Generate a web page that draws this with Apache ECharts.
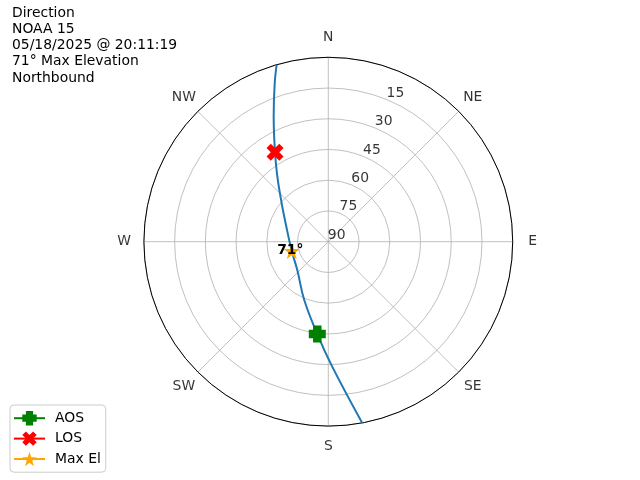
<!DOCTYPE html>
<html><head><meta charset="utf-8">
<script src="https://cdn.jsdelivr.net/npm/echarts@6/dist/echarts.min.js"></script>
<style>html,body{margin:0;padding:0;background:#fff}#c{width:640px;height:480px}</style>
</head><body><div id="c"></div>
<script>
// ---- data ----
const directions = ['N','NE','E','SE','S','SW','W','NW'];
const directionAz = [0,45,90,135,180,225,270,315];
const radialTicks = [90,75,60,45,30,15];
const titleLines = ['Direction','NOAA 15','05/18/2025 @ 20:11:19','71° Max Elevation','Northbound'];
const trackAz = [169.4,178.2,186.8,202.4,227.6,255.7,291.5,309.5,321.9,329.2,336.4,341.3,343.75];
const trackEl = [0,29.0,44.6,59.2,69.5,71.6,67.8,60.5,49.7,39.2,23.4,8.4,0];
const aosAz = 186.8, aosEl = 44.6;
const losAz = 329.2, losEl = 39.2;
const maxAz = 255.7, maxEl = 71.6;
const maxElLabel = '71°';
const legendNames = ['AOS','LOS','Max El'];

// ---- styles ----
const FONT = '"DejaVu Sans", sans-serif';
const FS = 13.9;
const COMPASS_LABEL_EL = -9.71;   // label ring just outside the horizon
const RLABEL_AZ = 22.5;           // direction of the radial tick labels
const plusPath = 'path://M-1.5,-3H1.5V-1.5H3V1.5H1.5V3H-1.5V1.5H-3V-1.5H-1.5Z';
const xPath = 'path://M-1,-2L0,-1L1,-2L2,-1L1,0L2,1L1,2L0,1L-1,2L-2,1L-1,0L-2,-1Z';
function starPath(){
  let s = 'path://';
  for (let k = 0; k < 10; k++) {
    const r = k % 2 ? 0.382 : 1;
    const a = (-90 + 36 * k) * Math.PI / 180;
    s += (k ? 'L' : 'M') + (r * Math.cos(a)).toFixed(3) + ',' + (r * Math.sin(a)).toFixed(3);
  }
  return s + 'Z';
}

const chart = echarts.init(document.getElementById('c'), null, {renderer: 'canvas'});
chart.setOption({
  animation: false,
  backgroundColor: '#ffffff',
  textStyle: {fontFamily: FONT},
  polar: {center: [328.3, 241.7], radius: 184.4},
  angleAxis: {
    type: 'value', min: 0, max: 360, interval: 45,
    startAngle: 90, clockwise: true,
    axisLine: {show: true, lineStyle: {color: '#000', width: 1}},
    axisTick: {show: false},
    axisLabel: {show: false},
    splitLine: {show: true, lineStyle: {color: '#b0b0b0', width: 0.8}}
  },
  radiusAxis: {
    type: 'value', min: 0, max: 90, interval: 15, inverse: true,
    axisLine: {show: false}, axisTick: {show: false}, axisLabel: {show: false},
    splitLine: {show: true, lineStyle: {color: '#b0b0b0', width: 0.8}}
  },
  legend: {
    left: 10, top: 405, orient: 'vertical',
    padding: [6, 5, 6, 3],
    itemWidth: 31, itemHeight: 18, itemGap: 6,
    backgroundColor: 'rgba(255,255,255,0.8)',
    borderColor: '#cccccc', borderWidth: 1, borderRadius: 4,
    textStyle: {color: '#000', fontSize: FS, fontFamily: FONT, padding: [0, 0, 0, 5]},
    data: legendNames
  },
  graphic: [{
    type: 'text', left: 12, top: 5,
    style: {text: titleLines.join('\n'), font: FS + 'px ' + FONT, lineHeight: 16.25, fill: '#000'}
  }],
  series: [
    {
      type: 'line', coordinateSystem: 'polar', name: 'track',
      data: trackEl.map((e, i) => [e, trackAz[i]]),
      showSymbol: false, smooth: 0.4, z: 2,
      lineStyle: {color: '#1f77b4', width: 2}
    },
    {
      type: 'scatter', coordinateSystem: 'polar', name: 'rlabels',
      data: radialTicks.map(t => [t, RLABEL_AZ]),
      symbolSize: 1, itemStyle: {color: 'transparent'}, z: 1, silent: true,
      label: {show: true, position: [0, 1], align: 'left', verticalAlign: 'bottom',
        color: '#000', fontSize: FS, fontFamily: FONT, formatter: p => String(p.value[0])}
    },
    {
      type: 'scatter', coordinateSystem: 'polar', name: 'compass', clip: false,
      data: directionAz.map(a => [COMPASS_LABEL_EL, a]),
      symbolSize: 1, itemStyle: {color: 'transparent'}, z: 1, silent: true,
      label: {show: true, position: 'inside', align: 'center', verticalAlign: 'middle',
        color: '#000', fontSize: FS, fontFamily: FONT, formatter: p => directions[p.dataIndex]}
    },
    {
      type: 'line', coordinateSystem: 'polar', name: legendNames[0],
      data: [[aosEl, aosAz]], symbol: plusPath, symbolSize: 17, showSymbol: true, z: 5,
      itemStyle: {color: '#008000'}, lineStyle: {color: '#008000', width: 2}
    },
    {
      type: 'line', coordinateSystem: 'polar', name: legendNames[1],
      data: [[losEl, losAz]], symbol: xPath, symbolSize: 17, showSymbol: true, z: 5,
      itemStyle: {color: '#ff0000'}, lineStyle: {color: '#ff0000', width: 2}
    },
    {
      type: 'line', coordinateSystem: 'polar', name: legendNames[2],
      data: [[maxEl, maxAz]], symbol: starPath(), symbolSize: 16, showSymbol: true, z: 5,
      itemStyle: {color: '#ffa500'}, lineStyle: {color: '#ffa500', width: 2},
      label: {show: true, position: 'inside', offset: [-1.5, -1], formatter: () => maxElLabel,
        color: '#000', fontWeight: 'bold', fontSize: FS, fontFamily: FONT}
    }
  ]
});
</script></body></html>
